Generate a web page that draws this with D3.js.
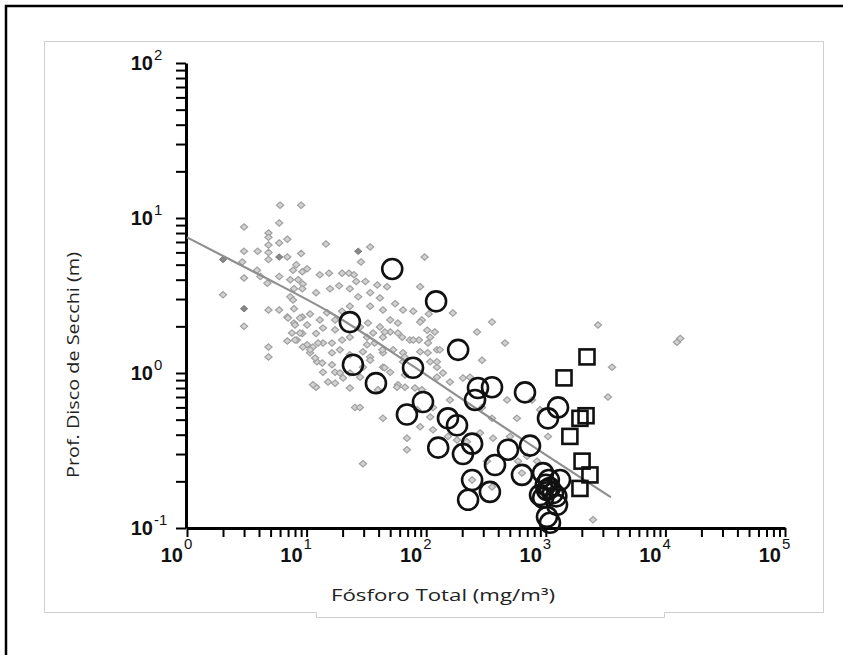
<!DOCTYPE html>
<html><head><meta charset="utf-8">
<script src="https://cdn.jsdelivr.net/npm/d3@7"></script>
<style>body{margin:0;background:#fff;overflow:hidden}</style>
</head><body><svg id="c" width="843" height="655"></svg>
<script>
// ---- data ----
const diaX=[6.0,9.0,5.9,3.0,4.8,4.8,6.9,5.9,3.9,3.0,4.8,4.8,6.9,9.0,14.5,34,97,28.5,2.9,4.8,8.2,10.1,7.7,9.2,5.9,3.85,12.9,15.4,19.8,22.6,24.9,3.0,7.3,8.5,9.3,4.1,4.7,7.85,9.2,12.0,15.7,18.7,23,26,31,39,47,89,2.0,3.0,4.8,5.9,7.3,7.85,6.9,7.85,9.2,10.7,12.9,14.8,17.3,19.8,23,27,34,41,34,43.5,55,64,78,92,105,50,58,41,32.6,28,17.3,13.7,12.0,9.2,8.3,6.9,10.1,11.3,13.7,16.3,19.8,23,32,37,43.5,50,63,73,87,108,118,4.8,4.8,10.7,12.2,16.3,19,23,29.6,34,43.5,53,64,103,123,13.7,17.3,23,29.6,43.5,50,64,123,138,108,7.7,8.0,8.8,10.1,7.55,8.8,8.0,9.3,10.7,12.5,11.8,13.5,16.3,15.1,17.3,12.0,19,11.3,7.0,355,456,2730,3580,3310,293,266,203,167,103.5,130,123,89,92,123,158,43.5,29.6,25.4,27.9,39.5,66.5,58,28,20.2,23,89,69,69,114,152,181,219,282,355,574,362,502,586,322,242,355,632,697,1043,844,2480,767,895,474,293,232,158,114,108,84,45,58,78,89,102,36,32,43,66,34,45,12500,13300,57,66.5,80.5];
const diaY=[12.1,12.1,9.3,8.75,8.0,7.5,7.3,6.9,6.1,6.1,6.7,6.0,5.6,5.9,6.8,6.5,5.6,5.2,5.2,5.4,5.0,4.7,4.6,4.5,4.2,4.6,4.3,4.4,4.4,4.4,4.3,4.1,4.0,4.0,3.75,4.2,3.8,3.5,3.5,3.3,3.5,3.65,3.5,3.9,3.9,3.7,3.6,3.6,3.2,2.0,2.55,2.55,3.1,2.6,2.3,2.1,2.3,2.4,2.2,2.45,2.2,2.5,2.7,3.1,3.3,3.05,2.7,2.55,2.8,2.55,2.5,2.2,2.4,2.2,2.1,1.98,2.1,1.98,1.9,1.95,1.8,1.8,1.63,1.61,1.52,1.47,1.56,1.56,1.63,1.7,1.7,1.56,1.7,1.84,1.7,1.63,1.63,1.7,1.84,1.47,1.27,1.35,1.18,1.35,1.41,1.31,1.37,1.27,1.35,1.41,1.35,1.35,1.41,1.01,1.01,1.0,1.09,1.09,1.01,1.18,1.09,1.0,1.18,2.96,2.04,2.26,2.04,1.81,1.81,1.63,1.47,1.41,1.56,1.25,1.16,1.13,0.875,0.86,0.81,1.0,0.84,2.26,2.13,1.56,2.04,1.09,0.70,1.21,1.84,0.93,2.44,1.56,1.41,1.18,1.37,0.78,0.94,0.875,0.51,0.26,0.60,0.60,0.78,0.97,0.84,0.94,0.93,0.80,0.45,0.38,0.32,0.43,0.39,0.37,0.36,0.41,0.51,0.51,0.38,0.39,0.27,0.27,0.204,0.184,0.226,0.29,0.39,0.27,0.113,0.67,0.58,0.67,0.60,0.94,0.67,0.60,0.52,0.58,1.84,1.81,1.63,2.13,1.89,1.81,1.52,1.41,1.27,1.21,1.08,1.58,1.67,0.81,0.81,0.80];
const darkX=[5.9,27,2.0,3.0];
const darkY=[5.6,6.1,5.4,2.6];
const circX=[52,121,23,185,24.4,38,77.6,94,69,271,355,256,670,152,181,126,242,203,376,483,738,242,224,341,632,948,1265,1043,1023,1148,895,1241,1023,1084,1315,1000,1080,1225,950,1060];
const circY=[4.69,2.9,2.13,1.41,1.13,0.86,1.08,0.65,0.54,0.80,0.81,0.67,0.75,0.51,0.46,0.33,0.35,0.30,0.255,0.32,0.34,0.204,0.152,0.171,0.22,0.226,0.60,0.51,0.176,0.168,0.163,0.141,0.118,0.108,0.204,0.19,0.181,0.16,0.157,0.204];
const sqX=[2210,1420,1930,2170,1590,2010,2340,1930];
const sqY=[1.27,0.93,0.51,0.53,0.39,0.27,0.22,0.18];
const trendX=[1,4,16,80,300,1000,3500];
const trendY=[7.5,4.32,2.44,1.09,0.55,0.296,0.158];
const xDecades=[0,1,2,3,4,5];
const yDecades=[-1,0,1,2];
const xTitle="Fósforo Total (mg/m³)";
const yTitle="Prof. Disco de Secchi (m)";

// ---- drawing ----
const svg=d3.select("#c");
const x=d3.scaleLog().domain([1,1e5]).range([187,785]);
const y=d3.scaleLog().domain([0.1,100]).range([528,63]);

// outer black border and light frame
svg.append("path").attr("d","M6,656V6H844").attr("fill","none").attr("stroke","#000").attr("stroke-width",2.5);
svg.append("path").attr("d","M44.5,41.5H823.5V612.5H664.5V617.5H316.5V612.5H44.5Z")
  .attr("fill","#fff").attr("stroke","#cfcfcf").attr("stroke-width",1);

function minorVals(lo,hi){const v=[];for(let d=lo;d<hi;d++){for(let m=1;m<10;m++)v.push(m*Math.pow(10,d));}v.push(Math.pow(10,hi));return v;}

const gx=svg.append("g").attr("transform","translate(0,528)")
  .call(d3.axisBottom(x).tickValues(minorVals(0,5)).tickSize(9).tickSizeOuter(0).tickFormat(""));
const gy=svg.append("g").attr("transform","translate(186,0)")
  .call(d3.axisLeft(y).tickValues(minorVals(-1,2)).tickSize(10).tickSizeOuter(0).tickFormat(""));
[gx,gy].forEach(g=>{
  g.select(".domain").attr("stroke","#000").attr("stroke-width",3);
  g.selectAll(".tick line").attr("stroke","#000").attr("stroke-width",2);
});

// tick labels 10^n
const lblFont="Liberation Sans, Arial, sans-serif";
xDecades.forEach(d=>{
  const px=x(Math.pow(10,d));
  svg.append("text").attr("x",px-4).attr("y",562).attr("text-anchor","end")
    .attr("font-family",lblFont).attr("font-weight","bold").attr("font-size",20).attr("fill","#111").text("10");
  svg.append("text").attr("x",px-3).attr("y",549).attr("text-anchor","start")
    .attr("font-family",lblFont).attr("font-size",15).attr("fill","#111").text(d);
});
yDecades.forEach(d=>{
  const py=y(Math.pow(10,d));
  svg.append("text").attr("x",153).attr("y",py+7).attr("text-anchor","end")
    .attr("font-family",lblFont).attr("font-weight","bold").attr("font-size",20).attr("fill","#111").text("10");
  svg.append("text").attr("x",154).attr("y",py-3).attr("text-anchor","start")
    .attr("font-family",lblFont).attr("font-size",15).attr("fill","#111").text(d);
});

// axis titles
svg.append("text").attr("x",443).attr("y",601).attr("text-anchor","middle")
  .attr("font-family","Open Sans, Noto Sans, sans-serif").attr("font-size",16).attr("fill","#222")
  .attr("textLength",224).attr("lengthAdjust","spacingAndGlyphs").text(xTitle);
svg.append("text").attr("transform","translate(79,365) rotate(-90)").attr("text-anchor","middle")
  .attr("font-family","Open Sans, Noto Sans, sans-serif").attr("font-size",16).attr("fill","#222")
  .attr("textLength",226).attr("lengthAdjust","spacingAndGlyphs").text(yTitle);

// diamonds
const diamond="M0,-3.2L3.6,0L0,3.2L-3.6,0Z";
svg.append("g").selectAll("path").data(diaX.map((v,i)=>[v,diaY[i]])).join("path")
  .attr("d",diamond).attr("transform",d=>`translate(${x(d[0])},${y(d[1])})`)
  .attr("fill","#d2d2d2").attr("stroke","#a0a0a0").attr("stroke-width",1.2);
svg.append("g").selectAll("path").data(darkX.map((v,i)=>[v,darkY[i]])).join("path")
  .attr("d",diamond).attr("transform",d=>`translate(${x(d[0])},${y(d[1])})`)
  .attr("fill","#888").attr("stroke","#777").attr("stroke-width",1);

// trend line
svg.append("path").datum(trendX.map((v,i)=>[v,trendY[i]]))
  .attr("d",d3.line().x(d=>x(d[0])).y(d=>y(d[1])).curve(d3.curveMonotoneX))
  .attr("fill","none").attr("stroke","#8f8f8f").attr("stroke-width",2.2);

// circles
svg.append("g").selectAll("circle").data(circX.map((v,i)=>[v,circY[i]])).join("circle")
  .attr("cx",d=>x(d[0])).attr("cy",d=>y(d[1])).attr("r",10)
  .attr("fill","none").attr("stroke","#111").attr("stroke-width",2.6);

// squares
svg.append("g").selectAll("rect").data(sqX.map((v,i)=>[v,sqY[i]])).join("rect")
  .attr("x",d=>x(d[0])-7.5).attr("y",d=>y(d[1])-7.5).attr("width",15).attr("height",15)
  .attr("fill","none").attr("stroke","#111").attr("stroke-width",2.6);
</script></body></html>
